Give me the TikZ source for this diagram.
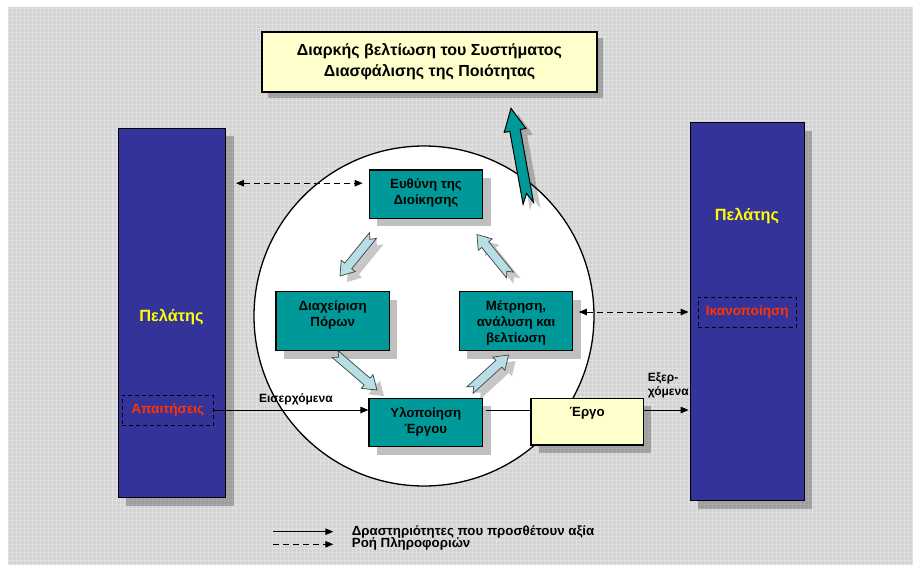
\documentclass[tikz,border=0pt]{standalone}
\usepackage{fontspec}
\setmainfont{Liberation Sans}
\usetikzlibrary{arrows.meta,calc,shadows}

\definecolor{panelgray}{RGB}{211,211,211}
\definecolor{clientblue}{RGB}{51,51,153}
\definecolor{processteal}{RGB}{0,153,153}
\definecolor{noteyellow}{RGB}{255,255,204}
\definecolor{cyclecyan}{RGB}{182,222,228}
\definecolor{alertred}{RGB}{255,51,0}
\definecolor{clientyellow}{RGB}{255,255,0}

% block arrow with a notched tail:
% [style]{tail}{tip}{shaft half width}{head half width}{head length}{notch depth}
\newcommand\blockarrowpath[7][]{%
  \coordinate (headbase) at ($(#3)!#6!(#2)$);
  \path[#1] ($(#2)!#4!90:(#3)$) -- ($(headbase)!#4!-90:(#2)$)
    -- ($(headbase)!#5!-90:(#2)$) -- (#3)
    -- ($(headbase)!#5!90:(#2)$) -- ($(headbase)!#4!90:(#2)$)
    -- ($(#2)!#4!-90:(#3)$) -- ($(#2)!#7!(#3)$) -- cycle;
}
\newcommand\shadedblockarrow[7][]{%
  \blockarrowpath[arrowshadow]{#2}{#3}{#4}{#5}{#6}{#7}
  \blockarrowpath[#1]{#2}{#3}{#4}{#5}{#6}{#7}
}

\begin{document}
\begin{tikzpicture}[x=1pt,y=-1pt,
  shadowed/.style={general shadow={fill=black,opacity=0.25,
      shadow xshift=#1,shadow yshift=-#1}},
  shadowed/.default=7pt,
  arrowshadow/.style={fill=black,fill opacity=0.22,
      transform canvas={shift={(7pt,-6pt)}}},
  column/.style={draw=black,line width=0.8pt,fill=clientblue,
      shadowed=8pt,inner sep=0pt},
  clienttext/.style={text=clientyellow,font=\bfseries\fontsize{16.3}{19}\selectfont},
  needbox/.style={draw=black,line width=0.9pt,dash pattern=on 4pt off 3pt,
      minimum height=30pt,inner sep=0pt,text=alertred,
      font=\bfseries\fontsize{13.6}{16}\selectfont},
  titlebox/.style={draw=black,line width=1.3pt,fill=noteyellow,shadowed=6pt,
      minimum width=335pt,minimum height=60pt,align=center,
      font=\bfseries\fontsize{16}{21}\selectfont},
  tealbox/.style={draw=black,line width=1.3pt,fill=processteal,shadowed=8pt,
      minimum width=113.4pt,inner sep=0pt},
  yellowbox/.style={draw=black,line width=1.3pt,fill=noteyellow,shadowed=8pt,
      minimum width=112.3pt,inner sep=0pt},
  boxlabel/.style={anchor=north,yshift=-9.5pt,inner sep=0pt,align=center,
      font=\bfseries\fontsize{13.3}{16}\selectfont},
  cyclearrow/.style={fill=cyclecyan,draw=black!75,line width=0.7pt},
  risearrow/.style={fill=processteal,draw=black,line width=1pt},
  valueflow/.style={draw=black,line width=0.9pt,
      -{Triangle[length=8pt,width=6.5pt]}},
  infoflow/.style={draw=black,line width=0.9pt,dash pattern=on 6pt off 4pt,
      {Triangle[length=8pt,width=6.5pt]}-{Triangle[length=8pt,width=6.5pt]}},
  flowtext/.style={font=\bfseries\fontsize{12}{14.4}\selectfont},
  legendtext/.style={anchor=west,inner sep=0pt,
      font=\bfseries\fontsize{13.3}{14}\selectfont}
]
\useasboundingbox (0,0) rectangle (913,565);

% textured grey panel
\fill[panelgray] (8,7) rectangle (913,565);
\draw[white,opacity=0.3,line width=0.5pt,step=4pt] (8,565) grid (913,7);

% the two customer columns
\node[column,minimum width=107.7pt,minimum height=369.7pt] (lcol) at (171.8,312.8) {};
\node[column,minimum width=114pt,minimum height=378pt] (rcol) at (747,311.7) {};
\node[clienttext] (ltext) at (171.5,316.7) {Πελάτης};
\node[clienttext] (rtext) at (747,216) {Πελάτης};
\node[needbox,minimum width=91.7pt] (needs) at (167.8,410) {Απαιτήσεις};
\node[needbox,minimum width=98.7pt] (satisf) at (747.3,312) {Ικανοποίηση};

% the process circle
\node[draw=black,circle,fill=white,line width=1.3pt,minimum size=340pt,inner sep=0pt]
  (ring) at (424,316) {};

% continual improvement goal
\node[titlebox] (goal) at (429.5,62)
  {Διαρκής βελτίωση του Συστήματος\\Διασφάλισης της Ποιότητας};

\coordinate (rise-tail) at (528.3,203.3);
\coordinate (rise-tip) at (511,108.3);
\shadedblockarrow[risearrow]{rise-tail}{rise-tip}{5.3pt}{11pt}{22.5pt}{10pt}

% process boxes
\node[tealbox,minimum height=48.3pt,
  label={[boxlabel]north:Ευθύνη της\\Διοίκησης}] (resp) at (426,194.2) {};
\node[tealbox,minimum height=59pt,
  label={[boxlabel]north:Διαχείριση\\Πόρων}] (res) at (332.7,321.2) {};
\node[tealbox,minimum height=59pt,
  label={[boxlabel]north:Μέτρηση,\\ανάλυση και\\βελτίωση}] (meas) at (516,321.2) {};
\node[tealbox,minimum height=48.4pt,
  label={[boxlabel]north:Υλοποίηση\\Έργου}] (impl) at (425.8,422.5) {};
\node[yellowbox,minimum height=46.7pt,
  label={[boxlabel]north:Έργο}] (product) at (587.2,421.7) {};

% the improvement cycle
\coordinate (c1a) at (373,235.5);  \coordinate (c1b) at (340,276);
\coordinate (c2a) at (510,275);    \coordinate (c2b) at (477,234.5);
\coordinate (c3a) at (335,354);    \coordinate (c3b) at (377,390);
\coordinate (c4a) at (470,390);    \coordinate (c4b) at (508.5,355);
\shadedblockarrow[cyclearrow]{c1a}{c1b}{4.5pt}{9pt}{13pt}{5pt}
\shadedblockarrow[cyclearrow]{c2a}{c2b}{4.5pt}{9pt}{13pt}{5pt}
\shadedblockarrow[cyclearrow]{c3a}{c3b}{4.5pt}{9pt}{13pt}{5pt}
\shadedblockarrow[cyclearrow]{c4a}{c4b}{4.5pt}{9pt}{13pt}{5pt}

% information flows
\coordinate (infoA) at ([yshift=11pt]resp.west);
\draw[infoflow,shorten <=10pt,shorten >=6pt] (infoA -| lcol.east) -- (infoA);
\draw[infoflow,shorten <=5.5pt,shorten >=1pt] (meas.east |- satisf.west) -- (rcol.west |- satisf.west);

% value adding flows
\draw[valueflow] (needs.east) -- node[pos=0.53,above=1pt,flowtext] {Εισερχόμενα}
  (needs.east -| impl.west);
\draw[draw=black,line width=0.9pt,shorten <=3pt] (needs.east -| impl.east) -- (needs.east -| product.west);
\draw[valueflow,shorten >=1pt] (needs.east -| product.east) --
  node[pos=0,anchor=south west,yshift=8pt,align=left,flowtext] {Εξερ-\\χόμενα}
  (needs.east -| rcol.west);

% legend
\node[legendtext] (legend1) at (351.7,531.7) {Δραστηριότητες που προσθέτουν αξία};
\node[legendtext] (legend2) at (351.7,544.3) {Ροή Πληροφοριών};
\coordinate (legstart1) at (273.3,531.7);
\coordinate (legstart2) at (273.3,544.3);
\draw[valueflow,shorten >=18.4pt] (legstart1) -- (legstart1 -| legend1.west);
\draw[draw=black,line width=0.9pt,dash pattern=on 6pt off 4pt,
  -{Triangle[length=8pt,width=6.5pt]},shorten >=18.4pt] (legstart2) -- (legstart2 -| legend2.west);
\end{tikzpicture}
\end{document}
